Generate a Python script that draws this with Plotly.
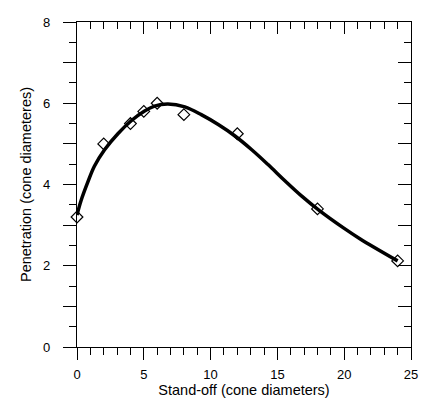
import plotly.graph_objects as go

# Measured data points (open diamonds)
standoff = [0, 2, 4, 5, 6, 8, 12, 18, 24]
penetration = [3.2, 5.0, 5.5, 5.8, 6.0, 5.72, 5.25, 3.4, 2.12]

# Fitted curve
curve_x = [0, 0.3, 0.8, 1.3, 2.05, 3.06, 4.06, 5.06, 5.8, 6.8, 8.07, 9.3, 10.6, 11.8,
           13.1, 14.3, 15.6, 16.8, 18.1, 20.0, 21.2, 24.0]
curve_y = [3.25, 3.6, 4.05, 4.45, 4.85, 5.25, 5.57, 5.81, 5.93, 5.98, 5.91, 5.72, 5.47, 5.2,
           4.85, 4.49, 4.08, 3.72, 3.37, 2.92, 2.66, 2.12]

x_ticks = [0, 5, 10, 15, 20, 25]
y_ticks = [0, 1, 2, 3, 4, 5, 6, 7, 8]
y_text = ["0", "", "2", "", "4", "", "6", "", "8"]

FONT = "Liberation Sans, Arial, Helvetica, sans-serif"

fig = go.Figure()
fig.add_trace(go.Scatter(x=curve_x, y=curve_y, mode="lines",
                         line=dict(color="black", width=3.5, shape="spline", smoothing=1.0),
                         hoverinfo="skip", showlegend=False))
fig.add_trace(go.Scatter(x=standoff, y=penetration, mode="markers",
                         marker=dict(symbol="diamond-open", size=9, color="black",
                                     line=dict(width=1.2, color="black")),
                         cliponaxis=False, showlegend=False))
# invisible trace for mirrored tick axes
fig.add_trace(go.Scatter(x=[0], y=[0], xaxis="x2", yaxis="y2", mode="markers",
                         marker=dict(opacity=0), hoverinfo="skip", showlegend=False))

common = dict(showgrid=False, zeroline=False, showline=True, linecolor="black",
              linewidth=1.3, tickcolor="black", tickwidth=1.2)

fig.update_layout(
    width=431, height=398,
    margin=dict(l=69, r=28, t=7, b=59),
    paper_bgcolor="white", plot_bgcolor="white",
    font=dict(family=FONT, size=13, color="black"),
    xaxis=dict(range=[0, 25], tickvals=x_ticks, ticks="outside", ticklen=12,
               minor=dict(dtick=1, ticks="outside", ticklen=7, tickcolor="black", tickwidth=1.2),
               tickfont=dict(size=13), ticklabelstandoff=3, ticklabeloverflow="allow",
               title=dict(text="Stand-off (cone diameters)", font=dict(size=14.5), standoff=1),
               **common),
    yaxis=dict(range=[0, 8], tickvals=y_ticks, ticktext=y_text, ticks="outside", ticklen=13,
               minor=dict(dtick=0.5, ticks="outside", ticklen=7, tickcolor="black", tickwidth=1.2),
               tickfont=dict(size=13), ticklabelstandoff=10, ticklabeloverflow="allow",
               title=dict(text="Penetration (cone diameteres)", font=dict(size=14.5), standoff=7),
               **common),
    xaxis2=dict(range=[0, 25], overlaying="x", side="top", tickvals=x_ticks, ticks="inside",
                ticklen=12, showticklabels=False,
                minor=dict(dtick=1, ticks="inside", ticklen=7, tickcolor="black", tickwidth=1.2),
                **common),
    yaxis2=dict(range=[0, 8], overlaying="y", side="right", tickvals=y_ticks, ticks="inside",
                ticklen=13, showticklabels=False,
                minor=dict(dtick=0.5, ticks="inside", ticklen=7, tickcolor="black", tickwidth=1.2),
                **common),
)

fig.write_html("out.html")
